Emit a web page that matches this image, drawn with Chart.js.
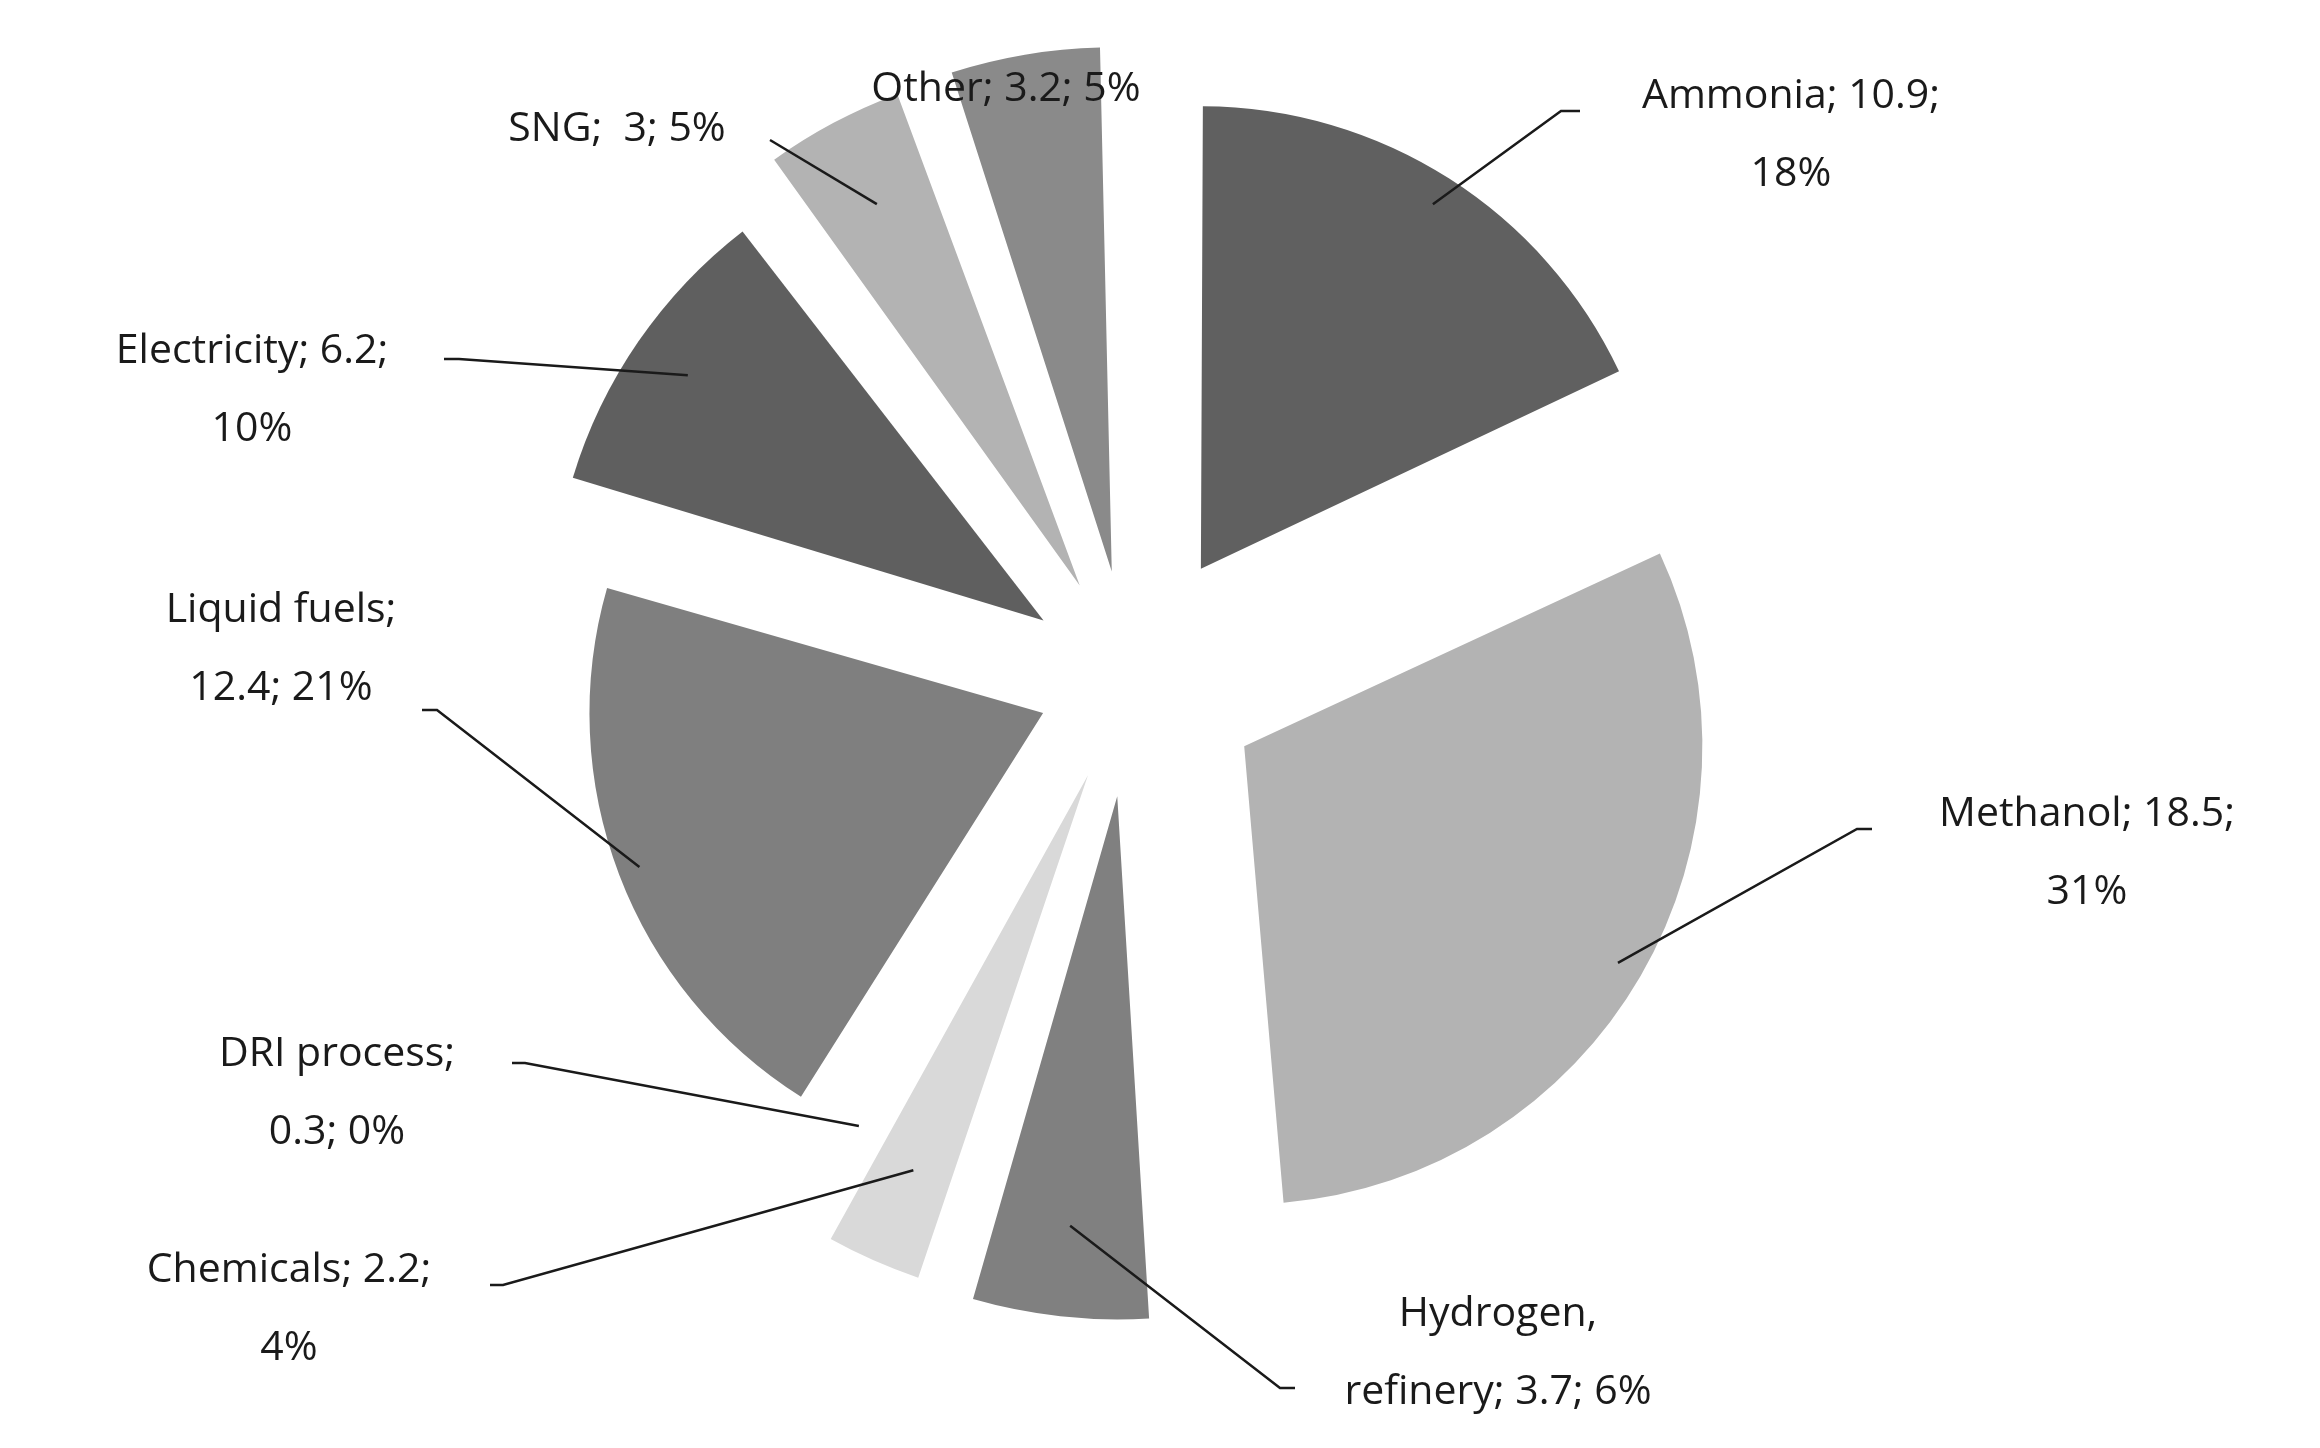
<!DOCTYPE html>
<html><head><meta charset="utf-8">
<script src="https://cdn.jsdelivr.net/npm/chart.js@4.4.1/dist/chart.umd.min.js"></script>
<style>html,body{margin:0;padding:0;background:#fff}#c{display:block}</style>
</head><body>
<div style="width:2320px;height:1448px"><canvas id="c"></canvas></div>
<script>
// data
const categories = ['Ammonia', 'Methanol', 'Hydrogen, refinery', 'Chemicals', 'DRI process', 'Liquid fuels', 'Electricity', 'SNG', 'Other'];
const values = [10.9, 18.5, 3.7, 2.2, 0.3, 12.4, 6.2, 3, 3.2];
const labelLines = [
  ['Ammonia; 10.9;', '18%'],
  ['Methanol; 18.5;', '31%'],
  ['Hydrogen,', 'refinery; 3.7; 6%'],
  ['Chemicals; 2.2;', '4%'],
  ['DRI process;', '0.3; 0%'],
  ['Liquid fuels;', '12.4; 21%'],
  ['Electricity; 6.2;', '10%'],
  ['SNG;  3; 5%'],
  ['Other; 3.2; 5%']
];

// styling / layout
const colors = ['#606060', '#b3b3b3', '#808080', '#d9d9d9', '#a6a6a6', '#7f7f7f', '#5f5f5f', '#b3b3b3', '#8a8a8a'];
// explode distance in px (chart.js arc moves offset/4, so it gets x4 below)
const offsets = [132, 132, 117, 104, 90, 93, 105, 107, 110];
const RADIUS = 450;
// label text center, and the elbow the leader line goes through
const labelPos = [
  {x: 1791, y: 96,  elbow: [[1561, 111], [1580, 111]]},
  {x: 2087, y: 814, elbow: [[1857, 829], [1872, 829]]},
  {x: 1498, y: 1314, elbow: [[1280, 1388], [1295, 1388]]},
  {x: 289, y: 1270, elbow: [[503, 1285], [490, 1285]]},
  {x: 337, y: 1054, elbow: [[525, 1063], [512, 1063]]},
  {x: 281, y: 610, elbow: [[437, 710], [422, 710]]},
  {x: 252, y: 351, elbow: [[459, 359], [444, 359]]},
  {x: 617, y: 129, elbow: [[770, 140], [770, 140]]},
  {x: 1006, y: 89, elbow: null}
];
const FONT = '41px "Open Sans", "Liberation Sans", sans-serif';

const labelPlugin = {
  id: 'pieLabels',
  afterDatasetsDraw(chart) {
    const ctx = chart.ctx;
    const meta = chart.getDatasetMeta(0);
    ctx.save();
    ctx.font = FONT;
    ctx.fillStyle = '#1a1a1a';
    ctx.strokeStyle = '#1a1a1a';
    ctx.lineWidth = 2.5;
    ctx.textAlign = 'center';
    ctx.textBaseline = 'middle';
    meta.data.forEach((arc, i) => {
      const p = arc.getProps(['x', 'y', 'startAngle', 'endAngle', 'outerRadius']);
      const mid = (p.startAngle + p.endAngle) / 2;
      const d = offsets[i] + p.outerRadius * 0.96;
      const sx = p.x + Math.cos(mid) * d, sy = p.y + Math.sin(mid) * d;
      const lp = labelPos[i];
      if (lp.elbow) {
        ctx.beginPath();
        ctx.moveTo(sx, sy);
        lp.elbow.forEach(e => ctx.lineTo(e[0], e[1]));
        ctx.stroke();
      }
      labelLines[i].forEach((t, k) => ctx.fillText(t, lp.x, lp.y + k * 78));
    });
    ctx.restore();
  }
};

new Chart(document.getElementById('c'), {
  type: 'pie',
  data: {
    labels: categories,
    datasets: [{data: values, backgroundColor: colors, borderWidth: 0,
      offset: offsets.map(o => o * 4), radius: RADIUS}]
  },
  options: {
    responsive: true,
    maintainAspectRatio: false,
    animation: false,
    layout: {padding: {left: 0, right: 60, top: 0, bottom: 88}},
    plugins: {legend: {display: false}, tooltip: {enabled: false}}
  },
  plugins: [labelPlugin]
});
</script>
</body></html>
